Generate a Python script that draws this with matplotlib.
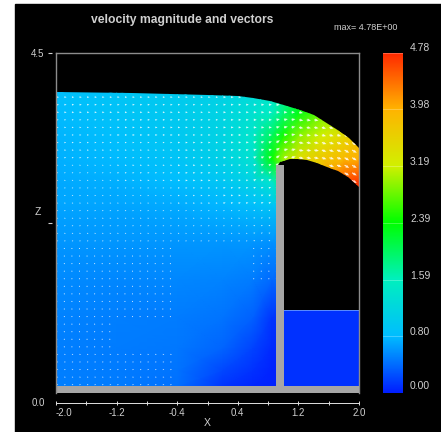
import numpy as np
import matplotlib
matplotlib.use('Agg')
import matplotlib.pyplot as plt
from matplotlib.colors import LinearSegmentedColormap, Normalize
from matplotlib.patches import Rectangle, Polygon

plt.rcParams['font.family'] = ['Liberation Sans', 'DejaVu Sans']

# free surface and nappe underside
surf_x = [-2.0, -1.0, 0.0, 0.4, 0.6, 0.82, 1.05, 1.22, 1.4, 1.55, 1.7, 1.87, 2.0]
surf_z = [3.98, 3.96, 3.94, 3.92, 3.90, 3.86, 3.79, 3.74, 3.67, 3.58, 3.49, 3.37, 3.24]
under_x = [2.0, 1.85, 1.72, 1.58, 1.45, 1.31, 1.2, 1.09, 0.96, 0.92]
under_z = [2.72, 2.85, 2.93, 2.99, 3.04, 3.08, 3.09, 3.09, 3.05, 2.99]

floor_top = 0.09
weir_left = 0.904
weir_right = 1.01
weir_top = 3.01
tail_top = 1.097

x_nodes = [-2.0, -1.2, -0.4, 0.2, 0.6, 0.85, 1.0, 1.2, 1.5, 1.8, 2.0]
z_nodes = [0.09, 0.3, 0.6, 1.0, 1.5, 2.0, 2.5, 2.8, 3.1, 3.4, 3.7, 4.0]

speed = [
    [.50, .48, .42, .12, .04, .02, .02, .02, .02, .02, .02],
    [.50, .48, .44, .22, .10, .03, .03, .03, .03, .03, .03],
    [.50, .48, .46, .36, .20, .06, .06, .06, .06, .06, .06],
    [.52, .50, .48, .44, .34, .12, .12, .12, .12, .12, .12],
    [.56, .54, .54, .52, .48, .38, .38, .38, .38, .38, .38],
    [.60, .60, .60, .60, .60, .58, .58, .58, .58, .58, .58],
    [.68, .68, .72, .78, .85, .95, 1.0, 3.0, 3.8, 4.4, 4.7],
    [.70, .74, .82, .95, 1.15, 1.45, 2.0, 3.0, 3.8, 4.5, 4.7],
    [.74, .80, .90, 1.12, 1.40, 2.40, 3.0, 3.4, 3.7, 3.9, 4.0],
    [.76, .84, .96, 1.15, 1.45, 2.00, 2.45, 2.9, 3.2, 3.5, 3.7],
    [.80, .88, 1.00, 1.15, 1.35, 1.55, 1.90, 2.3, 2.8, 3.1, 3.3],
    [.84, .90, 1.00, 1.12, 1.25, 1.45, 1.70, 2.1, 2.6, 2.9, 3.1],
]

# arrow components per cell, 0 where the picture shows no arrow
vec_u = [
    [.020, .020, 0, 0, 0, 0, 0, 0, 0, 0, 0],
    [.020, .020, 0, 0, 0, 0, 0, 0, 0, 0, 0],
    [.015, 0, 0, 0, 0, 0, 0, 0, 0, 0, 0],
    [.015, .015, 0, 0, 0, 0, 0, 0, 0, 0, 0],
    [.015, .015, 0, 0, .015, .005, 0, 0, 0, 0, 0],
    [.020, .020, .020, .020, .020, .010, 0, 0, 0, 0, 0],
    [.020, .020, .025, .030, .030, .015, 0, .05, .055, .06, .06],
    [.020, .025, .030, .030, .035, .030, .04, .055, .06, .06, .06],
    [.025, .025, .030, .035, .040, .045, .055, .06, .06, .06, .06],
    [.025, .030, .030, .035, .040, .045, .050, .055, .055, .055, .055],
    [.030, .030, .030, .035, .040, .045, .045, .05, .05, .05, .05],
    [.030, .030, .030, .035, .040, .045, .045, .05, .05, .05, .05],
]
vec_w = [
    [0, 0, 0, 0, 0, 0, 0, 0, 0, 0, 0],
    [0, 0, 0, 0, 0, 0, 0, 0, 0, 0, 0],
    [0, 0, 0, 0, 0, 0, 0, 0, 0, 0, 0],
    [0, 0, 0, 0, 0, 0, 0, 0, 0, 0, 0],
    [0, 0, 0, 0, .005, .015, 0, 0, 0, 0, 0],
    [0, 0, 0, 0, .010, .020, 0, 0, 0, 0, 0],
    [0, 0, 0, .005, .010, .025, 0, 0, 0, 0, 0],
    [0, 0, 0, .005, .015, .030, .02, 0, -.02, -.035, -.045],
    [0, 0, 0, .005, .015, .030, .015, -.01, -.02, -.035, -.045],
    [0, 0, 0, 0, 0, .010, .01, -.01, -.015, -.02, -.03],
    [0, 0, 0, 0, 0, 0, 0, -.01, -.01, -.02, -.02],
    [0, 0, 0, 0, 0, 0, 0, -.01, -.01, -.02, -.02],
]

cb_values = [0.00, 0.80, 1.59, 2.39, 3.19, 3.98, 4.78]
cb_labels = ['0.00', '0.80', '1.59', '2.39', '3.19', '3.98', '4.78']
cb_colors = ['#001eff', '#00beff', '#00f0be', '#00ff00', '#d2f000', '#ffb400', '#ff2800']

x_ticks = [-2.0, -1.6, -1.2, -0.8, -0.4, 0.0, 0.4, 0.8, 1.2, 1.6, 2.0]
x_labels = ['-2.0', '', '-1.2', '', '-0.4', '', '0.4', '', '1.2', '', '2.0']

W, H = 441, 432
gray = '#a6a6a6'
txt = '#d0d0d0'

cmap = LinearSegmentedColormap.from_list('vel', [(v / 4.78, c) for v, c in zip(cb_values, cb_colors)])
norm = Normalize(0, 4.78)

fig = plt.figure(figsize=(W / 100, H / 100), dpi=100, facecolor='white')
fig.patches.append(Rectangle((15 / W, 0), 1, 1 - 4 / H, transform=fig.transFigure, color='black', zorder=-5))

ax = fig.add_axes([56 / W, 1 - 393 / H, 303 / W, 340.5 / H])
ax.set_facecolor('none')
ax.set_xlim(-2, 2)
ax.set_ylim(0, 4.5)

# water region
water = list(zip(surf_x, surf_z)) + list(zip(under_x, under_z)) + [(weir_left, floor_top), (-2.0, floor_top)]
clip = Polygon(water, closed=True, transform=ax.transData, fc='none', ec='none')
ax.add_patch(clip)
XX, ZZ = np.meshgrid(x_nodes, z_nodes)
mesh = ax.pcolormesh(XX, ZZ, np.array(speed), cmap=cmap, norm=norm, shading='gouraud', zorder=1)
mesh.set_clip_path(clip)

# arrows
ax_x, ax_z = np.meshgrid(np.arange(-1.99, 2.0, 0.1), np.arange(0.11, 4.0, 0.1))
ix = np.clip(np.searchsorted(x_nodes, ax_x.ravel(), side='right') - 1, 0, len(x_nodes) - 1)
iz = np.clip(np.searchsorted(z_nodes, ax_z.ravel(), side='right') - 1, 0, len(z_nodes) - 1)
au = np.array(vec_u)[iz, ix]
aw = np.array(vec_w)[iz, ix]
inside = clip.get_path().contains_points(np.column_stack([ax_x.ravel(), ax_z.ravel()]))
keep = inside & ((au != 0) | (aw != 0))
q = ax.quiver(ax_x.ravel()[keep], ax_z.ravel()[keep], au[keep], aw[keep], angles='xy', scale_units='xy', scale=1,
              color='white', alpha=0.85, units='inches', width=0.012, headwidth=2.6, headlength=3, headaxislength=2.6,
              minlength=1, zorder=2)
q.set_clip_path(clip)

# walls and tail water
ax.add_patch(Rectangle((weir_right, floor_top), 2 - weir_right, tail_top - floor_top, fc=cmap(norm(0.1)), ec='none', zorder=1))
ax.plot([weir_right, 2], [tail_top, tail_top], color='#5a8cff', lw=0.7, zorder=2)
ax.add_patch(Rectangle((-2, 0), 4, floor_top, fc=gray, ec='none', zorder=3))
ax.add_patch(Rectangle((weir_left, 0), weir_right - weir_left, weir_top, fc=gray, ec='none', zorder=3))
ax.plot([-2, -2], [0, 4.5], color='#8c8c8c', lw=1, clip_on=False, zorder=4)

for s in ['top', 'right']:
    ax.spines[s].set_color('#8c8c8c')
    ax.spines[s].set_linewidth(1)
ax.spines['left'].set_position(('outward', 3))
ax.spines['left'].set_visible(False)
ax.spines['bottom'].set_position(('outward', 7.2))
ax.spines['bottom'].set_color('#e0e0e0')
ax.spines['bottom'].set_linewidth(0.7)

ax.set_xticks(x_ticks)
ax.set_xticklabels(x_labels)
ax.tick_params(axis='x', direction='inout', length=3.5, width=0.7, color='#e0e0e0', labelcolor=txt, labelsize=7, pad=2)
ax.get_xticklabels()[0].set_ha('left')
ax.set_xlabel('X', color=txt, fontsize=7.5, labelpad=0)

ax.set_yticks([0.0, 2.25, 4.5])
ax.set_yticklabels(['', '', '4.5'])
ax.tick_params(axis='y', length=3, width=0.8, color=txt, labelcolor=txt, labelsize=7, pad=2.5)
ax.yaxis.get_major_ticks()[0].tick1line.set_visible(False)
ax.annotate('0.0', (-2, 0), xytext=(-13, -7.2), textcoords='offset points', ha='center', va='center', color=txt,
            fontsize=7, annotation_clip=False)
ax.annotate('Z', (-2, 2.25), xytext=(-13, 8), textcoords='offset points', ha='center', va='center', color=txt,
            fontsize=7.5, annotation_clip=False)

# colour bar
cax = fig.add_axes([383 / W, 1 - 393 / H, 20 / W, 340.5 / H])
cax.imshow(np.linspace(0, 4.78, 256).reshape(-1, 1), origin='lower', aspect='auto', cmap=cmap, norm=norm,
           extent=[0, 1, 0, 4.78])
cax.set_xticks([])
cax.set_yticks([])
for s in cax.spines.values():
    s.set_visible(False)
for v, lab in zip(cb_values, cb_labels):
    cax.axhline(v, color='white', lw=0.6, alpha=0.3)
    cax.annotate(lab, (1, v), xytext=(5, 3 if v > 0 else 5), textcoords='offset points', ha='left', va='center',
                 color=txt, fontsize=7.5, annotation_clip=False)

fig.text(182 / W, 1 - 20 / H, 'velocity magnitude and vectors', ha='center', va='center', color=txt, fontsize=8.7,
         fontweight='bold')
fig.text(366 / W, 1 - 27 / H, 'max= 4.78E+00', ha='center', va='center', color=txt, fontsize=6.5)

fig.savefig('out.png', dpi=100, facecolor='white')
